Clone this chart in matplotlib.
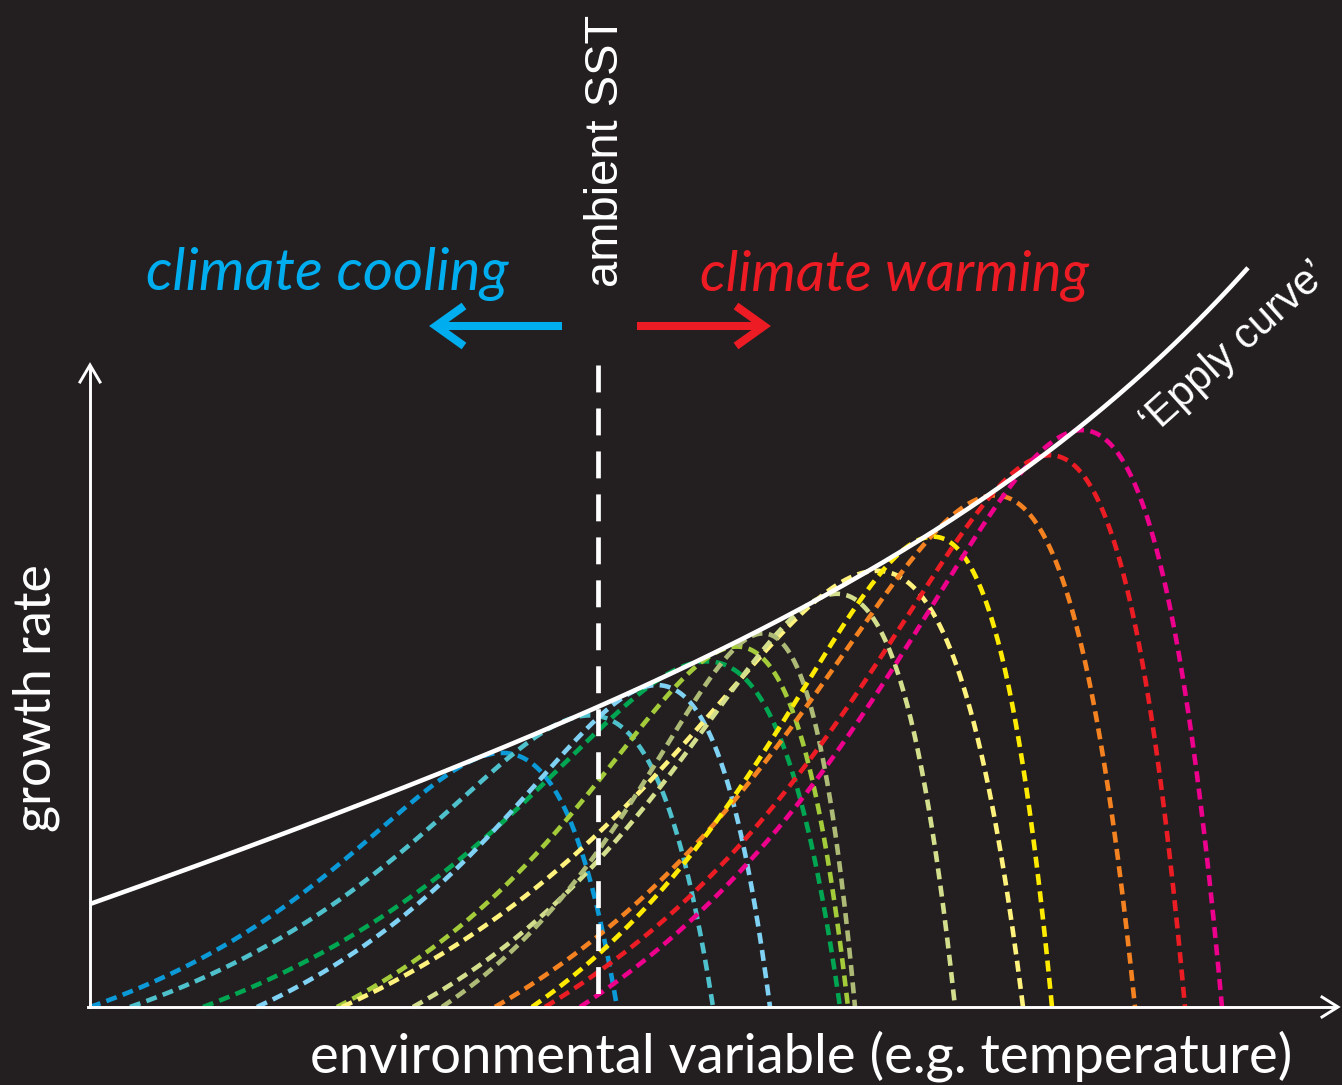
import numpy as np
import matplotlib
matplotlib.use("Agg")
import matplotlib.pyplot as plt

# ---- thermal performance curves (environmental variable units) ----
curve_colors = ["#0b9ad7", "#4fc1cc", "#00a651", "#80d2f4", "#a3cb3a", "#fff27d",
                "#d3df8c", "#aebb77", "#f58220", "#ffeb00", "#ec1c24", "#ec008c"]
curve_start = [0.00, 0.40, 1.13, 1.67, 2.47, 2.52, 3.23, 3.52, 4.05, 4.42, 4.55, 4.90]
curve_peak = [4.12, 5.00, 6.17, 5.67, 6.47, 7.87, 7.47, 6.73, 9.05, 8.43, 9.60, 9.92]
curve_end = [5.27, 6.23, 7.50, 6.80, 7.58, 9.33, 8.65, 7.65, 10.45, 9.62, 10.95, 11.32]

# Eppley-type envelope: growth = a + m*T + k*exp(r*T)
env_a, env_m, env_k, env_r = 0.949, 0.331, 0.0809, 0.30
env_range = (0.0, 11.58)

ambient_sst = 5.08

BG = "#231f20"
W, H = 1342, 1085
BETA = 2.0  # rise steepness of the performance curves


def envelope(t):
    return env_a + env_m * t + env_k * np.exp(env_r * t)


def tpc_exponent(r):
    """Exponent n that puts the maximum of (e^(B s)-1)(1-s^n) at s=r."""
    def g(n):
        return BETA * np.exp(BETA * r) * (1 - r ** n) - (np.exp(BETA * r) - 1) * n * r ** (n - 1)
    lo, hi = 1.0, 60.0
    for _ in range(80):
        mid = 0.5 * (lo + hi)
        if g(lo) * g(mid) <= 0:
            hi = mid
        else:
            lo = mid
    return 0.5 * (lo + hi)


def tpc(t, start, peak, end, height):
    s = (t - start) / (end - start)
    n = tpc_exponent((peak - start) / (end - start))
    shape = (np.exp(BETA * s) - 1) * (1 - np.clip(s, 0, 1) ** n)
    return height * shape / shape.max()


fig = plt.figure(figsize=(W / 100, H / 100), dpi=100, facecolor=BG)
ax = fig.add_axes([0, 0, 1, 1])
ax.set_facecolor(BG)
ax.set_xlim(-0.90, 12.52)
ax.set_ylim(-0.78, 10.07)
ax.axis("off")

# dashed thermal performance curves
for col, s, p, e in zip(curve_colors, curve_start, curve_peak, curve_end):
    t = np.linspace(s, e, 600)
    ax.plot(t, tpc(t, s, p, e, envelope(p) - 0.05), color=col, lw=3.3,
            linestyle=(0, (2.4, 1.4)), dash_capstyle="butt", zorder=3)

# Eppley envelope
te = np.linspace(*env_range, 400)
ax.plot(te, envelope(te), color="white", lw=3.3, zorder=4, solid_capstyle="butt")

# axes with open arrow heads
axis_kw = dict(color="white", lw=2.1, zorder=5, solid_joinstyle="miter")
ax.plot([-0.02, 12.46], [0, 0], **axis_kw)
ax.plot([0, 0], [0, 6.40], **axis_kw)
ax.plot([-0.10, 0, 0.10], [6.25, 6.42, 6.25], **axis_kw)
ax.plot([12.32, 12.48, 12.32], [0.10, 0, -0.10], **axis_kw)

# ambient SST marker
ax.plot([ambient_sst, ambient_sst], [6.42, 0], color="white", lw=3.4,
        linestyle=(0, (5.7, 3.4)), dash_capstyle="butt", zorder=6)

# warming / cooling arrows
arr_y = 6.81
blue, red = "#00aeef", "#ed1c24"
akw = dict(lw=5.8, solid_joinstyle="miter", solid_capstyle="butt", zorder=5)
ax.plot([4.72, 3.50], [arr_y, arr_y], color=blue, **akw)
ax.plot([3.74, 3.46, 3.74], [arr_y + 0.20, arr_y, arr_y - 0.20], color=blue, **akw)
ax.plot([5.47, 6.70], [arr_y, arr_y], color=red, **akw)
ax.plot([6.46, 6.74, 6.46], [arr_y + 0.20, arr_y, arr_y - 0.20], color=red, **akw)

# labels
geo = ["Lato", "DejaVu Sans"]
arial = ["Liberation Sans", "DejaVu Sans"]
t_cool = ax.text(0.56, 7.17, "climate cooling", color=blue, fontsize=30,
                 style="italic", family=geo, ha="left", va="baseline")
t_warm = ax.text(6.10, 7.17, "climate warming", color=red, fontsize=30,
                 style="italic", family=geo, ha="left", va="baseline")
t_sst = ax.text(5.28, 7.20, "ambient SST", color="white", fontsize=34,
                family=arial, rotation=90, rotation_mode="anchor",
                ha="left", va="baseline")
t_y = ax.text(-0.40, 1.75, "growth rate", color="white", fontsize=30,
              family=geo, rotation=90, rotation_mode="anchor",
              ha="left", va="baseline")
t_x = ax.text(2.20, -0.66, "environmental variable (e.g. temperature)",
              color="white", fontsize=30, family=geo,
              ha="left", va="baseline")
ax.text(10.64, 5.72, "\u2018Epply curve\u2019", color="white", fontsize=30,
        family=arial, rotation=42, rotation_mode="anchor",
        ha="left", va="baseline")

# scale labels to their intended lengths (pixels)
fig.canvas.draw()
renderer = fig.canvas.get_renderer()
for txt, length, vertical in [(t_cool, 362, False), (t_warm, 388, False),
                              (t_sst, 272, True), (t_y, 268, True),
                              (t_x, 980, False)]:
    bb = txt.get_window_extent(renderer)
    cur = bb.height if vertical else bb.width
    txt.set_fontsize(txt.get_fontsize() * length / cur)

fig.savefig("out.png", dpi=100, facecolor=BG)
